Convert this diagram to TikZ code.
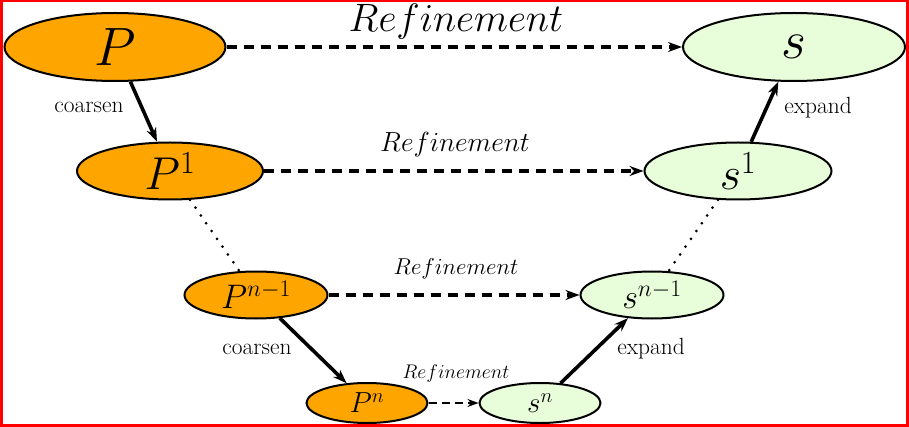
\RequirePackage{fix-cm}
\documentclass[tikz,border=0pt]{standalone}
\usetikzlibrary{shapes.geometric,arrows.meta}
\definecolor{sfill}{RGB}{232,253,218}
\definecolor{pfill}{RGB}{255,165,0}
\newcommand{\fs}[1]{\fontsize{#1}{#1}\selectfont}
\begin{document}
\begin{tikzpicture}[x=1pt,y=-1pt,
  ell/.style={ellipse,draw,line width=2pt,inner sep=0pt},
  pnode/.style={ell,fill=pfill},
  snode/.style={ell,fill=sfill},
  solidarrow/.style={line width=3.6pt,-{Stealth[length=14pt,width=10pt]}},
  dasharrow/.style={line width=3.8pt,dash pattern=on 10pt off 7pt,-{Stealth[length=14pt,width=10pt]}},
  smalldash/.style={line width=2.6pt,dash pattern=on 8pt off 5pt,-{Stealth[length=11pt,width=8pt]}},
  dotline/.style={line width=3pt,dash pattern=on 0pt off 9.5pt,line cap=round},
  lbl/.style={inner sep=0pt}]
\useasboundingbox (0,0) rectangle (909,427);
\draw[red,line width=2.5pt] (1.25,1.25) rectangle (907.5,425.5);

\node[pnode,minimum width=221pt,minimum height=68pt] (P) at (115,47) {\fs{54}$P$};
\node[snode,minimum width=222pt,minimum height=68pt] (s) at (794,47) {\fs{54}$s$};
\node[pnode,minimum width=186pt,minimum height=57pt] (P1) at (170,171) {\fs{46}$P^1$};
\node[snode,minimum width=187pt,minimum height=57pt] (s1) at (738,171) {\fs{46}$s^1$};
\node[pnode,minimum width=143pt,minimum height=47pt] (Pn1) at (256,295) {\fs{34}$P^{n-1}$};
\node[snode,minimum width=143pt,minimum height=47pt] (sn1) at (652,295) {\fs{34}$s^{n-1}$};
\node[pnode,minimum width=121pt,minimum height=40pt] (Pn) at (367,403) {\fs{29}$P^n$};
\node[snode,minimum width=121pt,minimum height=40pt] (sn) at (540,403) {\fs{29}$s^n$};

\node[lbl] (r1) at (456,22) {\fs{39.6}$Refinement$};
\node[lbl] (r2) at (455,145) {\fs{27.6}$Refinement$};
\node[lbl] (r3) at (456,269) {\fs{23}$Refinement$};
\node[lbl] (r4) at (456,374) {\fs{19.7}$Refinement$};

\node[lbl] (c1) at (89,107) {\fs{23.4}coarsen};
\node[lbl] (c2) at (257,349) {\fs{23.4}coarsen};
\node[lbl] (e1) at (818,108) {\fs{23.4}expand};
\node[lbl] (e2) at (651,349) {\fs{23.4}expand};

\draw[dasharrow] (P) -- (s);
\draw[dasharrow] (P1) -- (s1);
\draw[dasharrow] (Pn1) -- (sn1);
\draw[smalldash] (Pn) -- (sn);

\draw[solidarrow] (P) -- (P1);
\draw[solidarrow] (Pn1) -- (Pn);
\draw[solidarrow] (s1) -- (s);
\draw[solidarrow] (sn) -- (sn1);

\draw[dotline] (P1) -- (Pn1);
\draw[dotline] (s1) -- (sn1);
\end{tikzpicture}
\end{document}
